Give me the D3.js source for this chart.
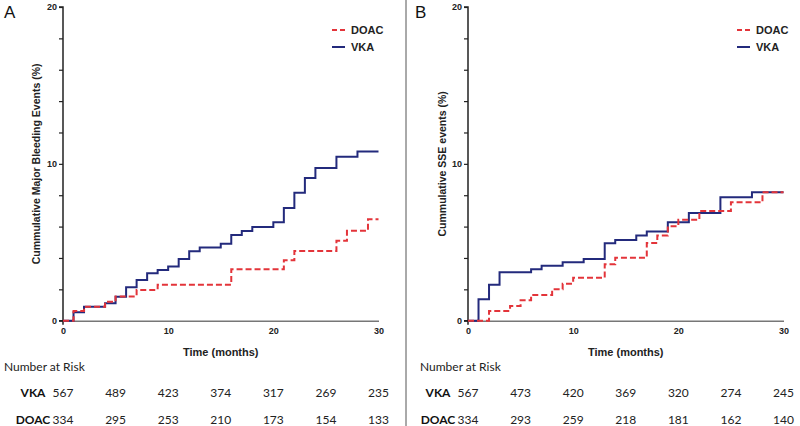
<!DOCTYPE html>
<html>
<head>
<meta charset="utf-8">
<script src="https://cdn.jsdelivr.net/npm/d3@7"></script>
<style>
  body { margin: 0; background: #fff; }
  svg text { font-family: "Liberation Sans", Arial, sans-serif; }
  svg text.risk { font-family: Lato, "Open Sans", sans-serif; }
</style>
</head>
<body>
<div id="chart"></div>
<script>
// step curves: [month, cumulative %]
const bleedVKA = [[0,0],[1,0.54],[2,0.89],[4,1.11],[5,1.53],[6,2.13],[7,2.6],[8,3.02],[9,3.23],[10,3.45],[11,3.94],[12,4.43],[13,4.66],[15,4.91],[16,5.47],[17,5.72],[18,5.98],[20,6.28],[21,7.19],[22,8.15],[23,9.09],[24,9.74],[26,10.45],[28,10.79],[30,10.79]];
const bleedDOAC = [[0,0],[1,0.62],[2,0.89],[4,1.21],[5,1.55],[7,1.96],[9,2.3],[16,3.28],[21,3.85],[22,4.45],[26,5.09],[27,5.74],[29,6.47],[30,6.47]];
const sseVKA = [[0,0],[1,1.36],[2,2.3],[3,3.09],[6,3.28],[7,3.51],[9,3.72],[11,3.94],[13,4.94],[14,5.15],[16,5.43],[17,5.68],[19,6.28],[21,6.87],[24,7.87],[27,8.19],[30,8.19]];
const sseDOAC = [[0,0],[2,0.62],[4,0.94],[5,1.3],[6,1.64],[8,2.0],[9,2.36],[10,2.74],[13,3.6],[14,4.02],[17,4.96],[18,5.43],[19,6.02],[20,6.43],[22,7.0],[25,7.55],[28,8.19],[30,8.19]];

const riskMonths = [0, 5, 10, 15, 20, 25, 30];
const riskA_VKA = [567, 489, 423, 374, 317, 269, 235];
const riskA_DOAC = [334, 295, 253, 210, 173, 154, 133];
const riskB_VKA = [567, 473, 420, 369, 320, 274, 245];
const riskB_DOAC = [334, 293, 259, 218, 181, 162, 140];

const yTicks = [0, 10, 20];
const xTicks = [0, 10, 20, 30];

const svg = d3.select("#chart").append("svg").attr("width", 800).attr("height", 426);

// divider
svg.append("line").attr("x1", 406).attr("x2", 406).attr("y1", 0).attr("y2", 426)
   .attr("stroke", "#555").attr("stroke-width", 1);

const blue = "#232a7c";
const red = "#e3343a";

function panel(opts) {
    const x = d3.scaleLinear().domain([0, 30]).range([opts.x0, opts.x0 + 315.5]);
    const y = d3.scaleLinear().domain([0, 20]).range([320.7, 7]);
    const g = svg.append("g");

    g.append("text").attr("x", opts.labelX).attr("y", 18).attr("font-size", 17).attr("fill", "#111").text(opts.label);

    // y axis
    const ya = g.append("g").attr("transform", `translate(${opts.x0},0)`)
        .call(d3.axisLeft(y).tickValues(d3.range(0, 21, 2)).tickSize(4).tickFormat(d => yTicks.includes(d) ? d : ""));
    ya.select(".domain").attr("stroke", "#222").attr("stroke-width", 1.5).attr("d", `M-4,${y(20)}H0V${y(0)}H-4`);
    ya.selectAll(".tick line").attr("stroke", "#222").attr("stroke-width", 1.2);
    ya.selectAll(".tick text").attr("font-size", 9).attr("font-weight", "bold").attr("fill", "#222").attr("x", -6);

    // x axis
    const xa = g.append("g").attr("transform", `translate(0,${y(0)})`)
        .call(d3.axisBottom(x).tickValues(xTicks).tickSize(0).tickPadding(7));
    xa.select(".domain").attr("stroke", "#777").attr("stroke-width", 1.5);
    xa.selectAll(".tick text").attr("font-size", 9).attr("font-weight", "bold").attr("fill", "#222");
    g.append("line").attr("x1", opts.x0).attr("x2", opts.x0).attr("y1", y(0)).attr("y2", y(0) + 4)
      .attr("stroke", "#222").attr("stroke-width", 1.5);

    g.append("text").attr("x", x(15)).attr("y", 356).attr("text-anchor", "middle")
      .attr("font-size", 11).attr("font-weight", "bold").attr("fill", "#222").text("Time (months)");

    g.append("text").attr("transform", `translate(${opts.yTitleX},${y(10)}) rotate(-90)`)
      .attr("text-anchor", "middle").attr("font-size", 10.5).attr("font-weight", "bold").attr("fill", "#222")
      .text(opts.yTitle);

    const line = d3.line().curve(d3.curveStepAfter).x(d => x(d[0])).y(d => y(d[1]));
    g.append("path").datum(opts.vka).attr("fill", "none").attr("stroke", blue).attr("stroke-width", 2).attr("d", line);
    g.append("path").datum(opts.doac).attr("fill", "none").attr("stroke", red).attr("stroke-width", 2)
      .attr("stroke-dasharray", "6,3").attr("d", line);

    // legend
    const lx = opts.x0 + 269;
    g.append("line").attr("x1", lx).attr("x2", lx + 13).attr("y1", 30).attr("y2", 30)
      .attr("stroke", red).attr("stroke-width", 2).attr("stroke-dasharray", "5,3");
    g.append("line").attr("x1", lx).attr("x2", lx + 13).attr("y1", 47).attr("y2", 47)
      .attr("stroke", blue).attr("stroke-width", 2);
    g.append("text").attr("x", lx + 19).attr("y", 34).attr("font-size", 11).attr("font-weight", "bold").attr("fill", "#222").text("DOAC");
    g.append("text").attr("x", lx + 19).attr("y", 51).attr("font-size", 11).attr("font-weight", "bold").attr("fill", "#222").text("VKA");

    // number at risk
    g.append("text").attr("class", "risk").attr("x", opts.riskX).attr("y", 371).attr("font-size", 12).attr("fill", "#222").text("Number at Risk");
    const rows = [["VKA", opts.rVKA, 397], ["DOAC", opts.rDOAC, 424]];
    rows.forEach(([name, vals, yy]) => {
        g.append("text").attr("class", "risk").attr("x", opts.rowLabelX).attr("y", yy).attr("text-anchor", "middle")
          .attr("font-size", 12).attr("font-weight", "bold").attr("fill", "#111").text(name);
        g.selectAll(null).data(vals).enter().append("text").attr("class", "risk")
          .attr("x", (d, i) => x(riskMonths[i])).attr("y", yy).attr("text-anchor", "middle")
          .attr("font-size", 12).attr("fill", "#222").text(d => d);
    });
}

panel({ x0: 63, label: "A", labelX: 4, riskX: 4, yTitleX: 40, yTitle: "Cummulative Major Bleeding Events (%)",
        vka: bleedVKA, doac: bleedDOAC, rVKA: riskA_VKA, rDOAC: riskA_DOAC, rowLabelX: 33 });
panel({ x0: 468, label: "B", labelX: 415, riskX: 420, yTitleX: 446, yTitle: "Cummulative SSE events (%)",
        vka: sseVKA, doac: sseDOAC, rVKA: riskB_VKA, rDOAC: riskB_DOAC, rowLabelX: 438 });
</script>
</body>
</html>
